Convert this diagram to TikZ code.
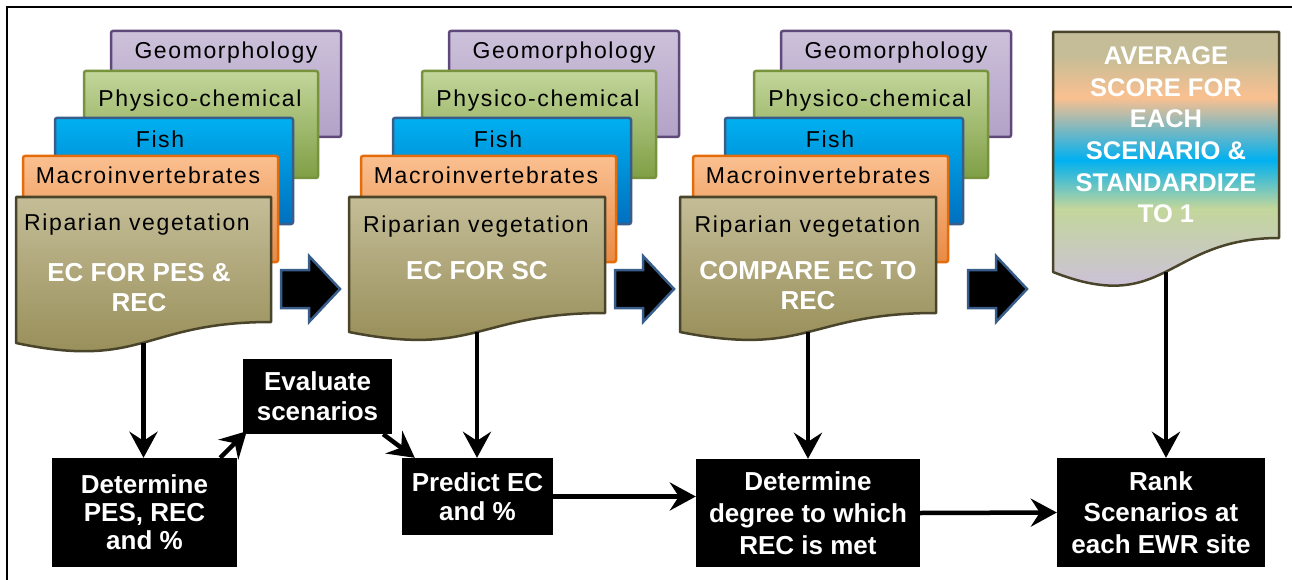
\documentclass[tikz,border=0pt]{standalone}
\usepackage{fontspec}
\setmainfont{Liberation Sans}
\usetikzlibrary{arrows.meta,calc}

\definecolor{geotop}{HTML}{CCC1DA}
\definecolor{geobot}{HTML}{B3A2C7}
\definecolor{geoline}{HTML}{5F497A}
\definecolor{phystop}{HTML}{C3D69B}
\definecolor{physbot}{HTML}{7F9F45}
\definecolor{physline}{HTML}{77933C}
\definecolor{fishtop}{HTML}{00B0F0}
\definecolor{fishbot}{HTML}{0070C0}
\definecolor{fishline}{HTML}{385D8A}
\definecolor{macrotop}{HTML}{FAC090}
\definecolor{macrobot}{HTML}{E98A45}
\definecolor{macroline}{HTML}{E46C0A}
\definecolor{riptop}{HTML}{C4BD97}
\definecolor{ripbot}{HTML}{948A54}
\definecolor{ripline}{HTML}{4A452A}
\definecolor{arrowline}{HTML}{385D8A}

\pgfdeclareverticalshading{avgshade}{100bp}{color(0bp)=(geotop); color(30bp)=(geotop);
  color(44bp)=(phystop); color(52.5bp)=(fishtop); color(63.5bp)=(macrotop);
  color(71bp)=(riptop); color(100bp)=(riptop)}

\tikzset{
  layer/.style={line width=2.5pt, rounded corners=2pt},
  geobox/.style={layer, draw=geoline, top color=geotop, bottom color=geobot},
  physbox/.style={layer, draw=physline, top color=phystop, bottom color=physbot},
  fishbox/.style={layer, draw=fishline, top color=fishtop, bottom color=fishbot},
  macrobox/.style={layer, draw=macroline, top color=macrotop, bottom color=macrobot},
  docbox/.style={line width=2.5pt, line join=round, draw=ripline, top color=riptop, bottom color=ripbot},
  avgbox/.style={line width=2.5pt, line join=round, draw=ripline, shading=avgshade},
  tag/.style={font=\fontsize{23}{23}\selectfont\addfontfeatures{LetterSpace=7}, inner sep=0pt, anchor=base},
  ectext/.style={text=white, font=\bfseries\fontsize{26}{30}\selectfont, align=center, inner sep=0pt},
  blackbox/.style={fill=black, text=white, font=\bfseries\fontsize{26}{30}\selectfont, align=center, inner sep=0pt},
  flow/.style={line width=4.5pt, -{Stealth[length=26pt,width=28pt,inset=9pt]}},
  bigarrow/.style={fill=black, draw=arrowline, line width=2.5pt, line join=miter}
}

\begin{document}
\begin{tikzpicture}[x=1pt, y=-1pt]
  \useasboundingbox (0,0) rectangle (1292,580);
  \draw[line width=2.5pt] (7,580) -- (7,7) -- (1292,7);

  % layers behind each riparian sheet
  \foreach \ox/\n in {0/1,338/2,670/3} {
    \draw[geobox] (\ox+111,31) rectangle (\ox+341,137);
    \node[tag] (geo\n) at (\ox+226,59) {Geomorphology};
    \draw[physbox] (\ox+84,71) rectangle (\ox+318,178);
    \node[tag] (phys\n) at (\ox+200,107) {Physico-chemical};
    \draw[fishbox] (\ox+55,118) rectangle (\ox+293,224);
    \node[tag] (fish\n) at (\ox+160,148) {Fish};
    \draw[macrobox] (\ox+23,156) rectangle (\ox+278,262);
    \node[tag] (macro\n) at (\ox+148,183) {Macroinvertebrates};
  }

  % riparian sheets
  \draw[docbox] (16,197) -- (271,197) -- (271,322)
    .. controls (143.5,322) and (143.5,370) .. (16,343) coordinate[pos=0.5] (rip1b) -- cycle;
  \node[tag] (rip1) at (137,230) {Riparian vegetation};
  \node[ectext] (ec1) at (139,288) {EC FOR PES \&\\REC};

  \draw[docbox] (349,197) -- (605,197) -- (605,313)
    .. controls (477,313) and (477,357.5) .. (349,332) coordinate[pos=0.5] (rip2b) -- cycle;
  \node[tag] (rip2) at (476,232) {Riparian vegetation};
  \node[ectext] (ec2) at (477,271) {EC FOR SC};

  \draw[docbox] (680,197) -- (936,197) -- (936,313)
    .. controls (808,313) and (808,357.5) .. (680,332) coordinate[pos=0.5] (rip3b) -- cycle;
  \node[tag] (rip3) at (807.5,232) {Riparian vegetation};
  \node[ectext] (ec3) at (808,286) {COMPARE EC TO\\REC};

  \draw[avgbox] (1053,32) -- (1279,32) -- (1279,238)
    .. controls (1166,238) and (1166,316.5) .. (1053,272) coordinate[pos=0.5] (avgb) -- cycle;
  \node[ectext, font=\bfseries\fontsize{25.5}{31.6}\selectfont] (avg) at (1166,135)
    {AVERAGE\\SCORE FOR\\EACH\\SCENARIO \&\\STANDARDIZE\\TO 1};

  % block arrows
  \foreach \ax in {281,615,968}
    \draw[bigarrow] (\ax,270) -- (\ax+28,270) -- (\ax+28,256) -- (\ax+59,289)
      -- (\ax+28,322) -- (\ax+28,308) -- (\ax,308) -- cycle;

  % lower boxes
  \node[blackbox, minimum width=185pt, minimum height=109pt, font=\bfseries\fontsize{26}{28}\selectfont] (det) at (144.5,512.5) {Determine\\PES, REC\\and \%};
  \node[blackbox, minimum width=149pt, minimum height=75pt] (eval) at (317.5,396.5) {Evaluate\\scenarios};
  \node[blackbox, minimum width=151pt, minimum height=77pt, font=\bfseries\fontsize{26}{29}\selectfont] (pred) at (477.5,496.5) {Predict EC\\and \%};
  \node[blackbox, minimum width=224pt, minimum height=108pt, font=\bfseries\fontsize{26}{32}\selectfont] (deg) at (808,513) {Determine\\degree to which\\REC is met};
  \node[blackbox, minimum width=208pt, minimum height=109pt, font=\bfseries\fontsize{26}{31.5}\selectfont] (rank) at (1161,512.5) {Rank\\Scenarios at\\each EWR site};

  \draw[flow] (rip1b) -- (rip1b |- det.north);
  \draw[flow] (rip2b) -- (rip2b |- pred.north);
  \draw[flow] (rip3b) -- (rip3b |- deg.north);
  \draw[flow] (avgb) -- (avgb |- rank.north);
  \draw[flow] ($(det.north east)+(-17,0)$) -- ($(eval.south west)+(4,-3)$);
  \draw[flow] ($(eval.south east)+(-9,0)$) -- ($(pred.north west)+(13,0)$);
  \draw[flow] (pred.east) -- (pred.east -| deg.west);
  \draw[flow] (deg.east) -- (rank.west);
\end{tikzpicture}
\end{document}
